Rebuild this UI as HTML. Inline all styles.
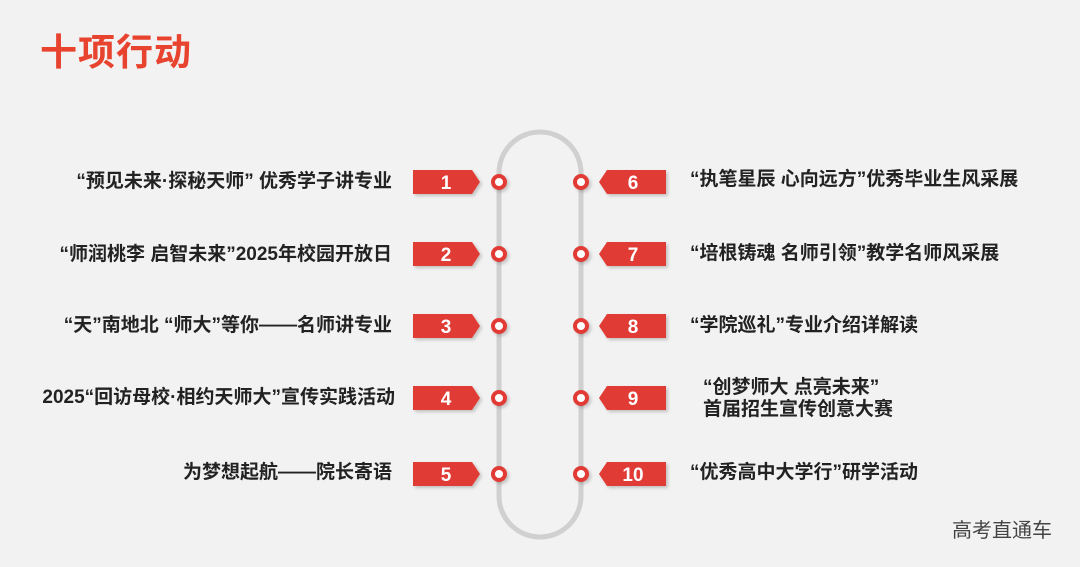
<!DOCTYPE html>
<html><head><meta charset="utf-8"><style>
body{margin:0;width:1080px;height:567px;background:#f2f2f2;position:relative;overflow:hidden;font-family:"Liberation Sans","Noto Sans CJK SC",sans-serif}
.t{position:absolute;font-size:19px;font-weight:bold;color:#222;white-space:nowrap;line-height:22px}
.l{right:688px;text-align:right}
.r{left:690px}
h1{position:absolute;left:40px;top:22px;margin:0;font-size:37px;color:#e8432f;font-weight:bold;letter-spacing:1px}
.w{position:absolute;right:28px;top:514px;font-size:20px;color:#444}
</style></head><body>
<h1>十项行动</h1>
<svg width="1080" height="567" style="position:absolute;left:0;top:0">
<defs><filter id="s" x="-20%" y="-20%" width="150%" height="160%"><feDropShadow dx="2" dy="2" stdDeviation="1.5" flood-color="#000" flood-opacity="0.2"/></filter></defs>
<path d="M499,496 V173 A41,41 0 0 1 581,173 V496 A41,41 0 0 1 499,496 Z" fill="none" stroke="#d0d0d0" stroke-width="5"/>
<g fill="#e03a34" filter="url(#s)">
<polygon points="413,170 472,170 480,182 472,194 413,194"/>
<polygon points="413,242 472,242 480,254 472,266 413,266"/>
<polygon points="413,314 472,314 480,326 472,338 413,338"/>
<polygon points="413,386 472,386 480,398 472,410 413,410"/>
<polygon points="413,462 472,462 480,474 472,486 413,486"/>
<polygon points="666,170 607,170 599,182 607,194 666,194"/>
<polygon points="666,242 607,242 599,254 607,266 666,266"/>
<polygon points="666,314 607,314 599,326 607,338 666,338"/>
<polygon points="666,386 607,386 599,398 607,410 666,410"/>
<polygon points="666,462 607,462 599,474 607,486 666,486"/>
</g>
<g fill="#fff" stroke="#e03a34" stroke-width="4" filter="url(#s)">
<circle cx="499" cy="182" r="6"/><circle cx="499" cy="254" r="6"/><circle cx="499" cy="326" r="6"/><circle cx="499" cy="398" r="6"/><circle cx="499" cy="474" r="6"/>
<circle cx="581" cy="182" r="6"/><circle cx="581" cy="254" r="6"/><circle cx="581" cy="326" r="6"/><circle cx="581" cy="398" r="6"/><circle cx="581" cy="474" r="6"/>
</g>
<g fill="#fff" font-family="Liberation Sans,sans-serif" font-weight="bold" font-size="19" text-anchor="middle">
<text x="446" y="189">1</text><text x="446" y="261">2</text><text x="446" y="333">3</text><text x="446" y="405">4</text><text x="446" y="481">5</text>
<text x="633" y="189">6</text><text x="633" y="261">7</text><text x="633" y="333">8</text><text x="633" y="405">9</text><text x="633" y="481">10</text>
</g>
</svg>
<div class="t l" style="top:171px">“预见未来·探秘天师” 优秀学子讲专业</div>
<div class="t l" style="top:244px">“师润桃李 启智未来”2025年校园开放日</div>
<div class="t l" style="top:315px">“天”南地北 “师大”等你——名师讲专业</div>
<div class="t l" style="top:387px;right:685px">2025“回访母校·相约天师大”宣传实践活动</div>
<div class="t l" style="top:462px">为梦想起航——院长寄语</div>
<div class="t r" style="top:169px">“执笔星辰 心向远方”优秀毕业生风采展</div>
<div class="t r" style="top:243px">“培根铸魂 名师引领”教学名师风采展</div>
<div class="t r" style="top:315px">“学院巡礼”专业介绍详解读</div>
<div class="t r" style="top:377px;left:703px">“创梦师大 点亮未来”<br>首届招生宣传创意大赛</div>
<div class="t r" style="top:462px">“优秀高中大学行”研学活动</div>
<div class="w">高考直通车</div>
</body></html>
